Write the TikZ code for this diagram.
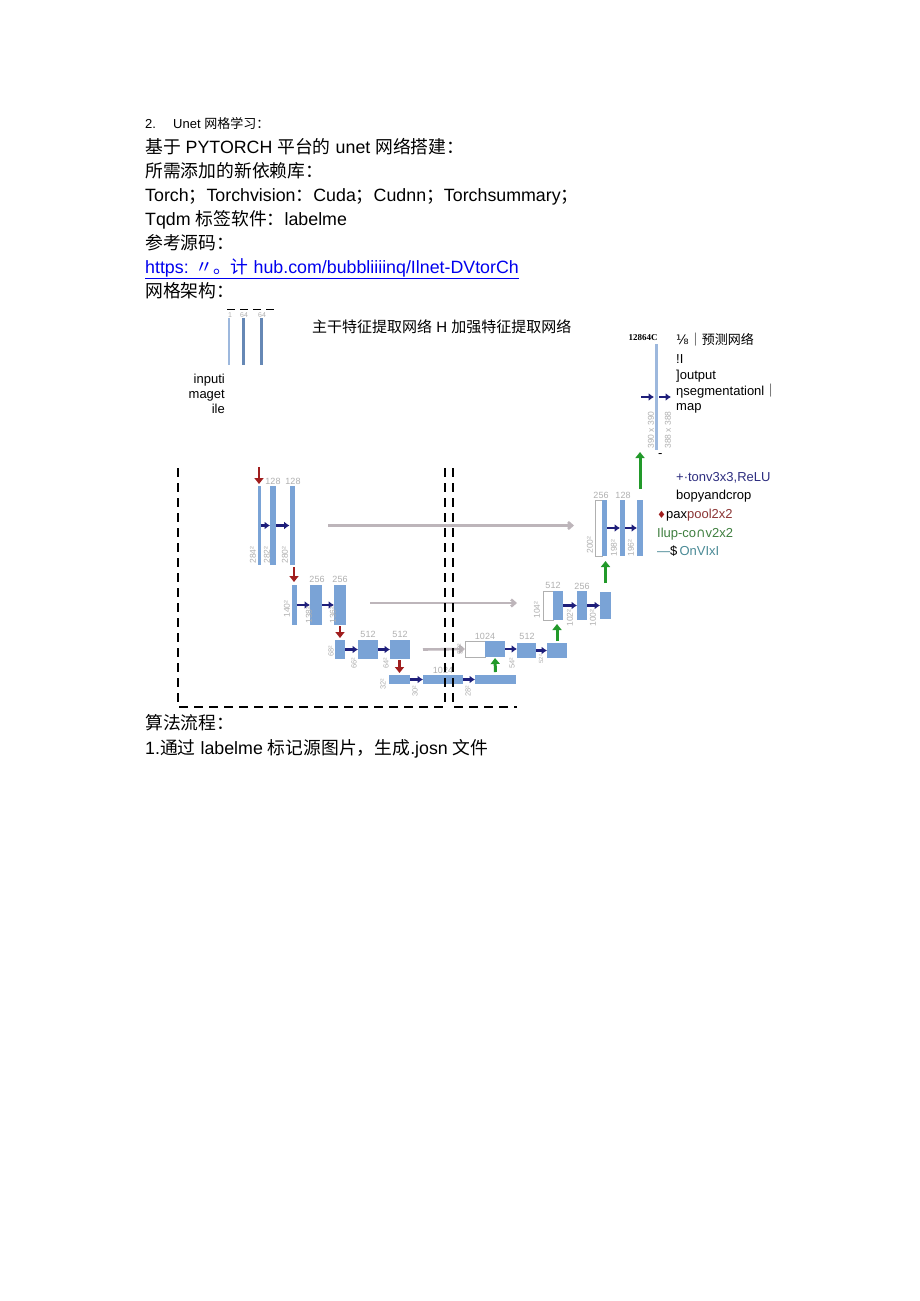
\documentclass[tikz,border=0pt]{standalone}
\usepackage{fontspec}
\setmainfont{Liberation Sans}
\newfontfamily\cjk{Noto Sans CJK SC}
\newfontfamily\symf{DejaVu Sans}
\newfontfamily\serifb{Liberation Serif}
\usetikzlibrary{arrows.meta}
\newcommand\zh[1]{{\cjk #1}}
\definecolor{barblue}{HTML}{7AA3D6}
\definecolor{barlight}{HTML}{9DB8DD}
\definecolor{bardark}{HTML}{6688B5}
\definecolor{navy}{HTML}{1E1E7A}
\definecolor{poolred}{HTML}{A01E1E}
\definecolor{upgreen}{HTML}{22992A}
\definecolor{lbl}{HTML}{B0B0B0}
\definecolor{copyg}{HTML}{BDB5BA}
\definecolor{linkblue}{HTML}{0000EE}
\definecolor{legnavy}{HTML}{2E2E80}
\definecolor{legred}{HTML}{8B3535}
\definecolor{leggreen}{HTML}{3F7F3F}
\definecolor{legteal}{HTML}{4A8A96}
\begin{document}
\begin{tikzpicture}[x=1pt,y=-1pt,
  txt/.style={anchor=base west, inner sep=0, font=\fontsize{17.8}{20}\selectfont},
  stxt/.style={anchor=base west, inner sep=0, font=\fontsize{13}{15}\selectfont},
  bar/.style={fill=barblue, inner sep=0, outer sep=0, draw=none},
  wbox/.style={fill=white, draw=lbl, line width=0.6pt, inner sep=0, outer sep=0},
  num/.style={inner sep=0, text=lbl, font=\fontsize{9}{10}\selectfont},
  rl/.style={inner sep=0, text=lbl, rotate=90, font=\fontsize{8.5}{10}\selectfont},
  conv/.style={draw=navy, line width=2.4pt, -{Latex[length=5.5pt,width=8pt]}},
  pool/.style={draw=poolred, line width=2.8pt, -{Triangle[length=6pt,width=9pt]}},
  upc/.style={draw=upgreen, line width=3pt, -{Triangle[length=6pt,width=9pt]}},
  copy/.style={draw=copyg, line width=2.6pt, -{Straight Barb[length=4pt,width=7pt]}},
  dashb/.style={draw=black, line width=2.4pt, dash pattern=on 9pt off 6pt}]
\path[fill=white] (0,0) rectangle (920,1301);

% ---------------- text block ----------------
\node[stxt] (t0a) at (145,128) {2.};
\node[stxt] (t0b) at (173,128) {Unet \zh{网格学习：}};
\node[txt] (t1) at (145,153) {\zh{基于} PYTORCH \zh{平台的} unet \zh{网络搭建：}};
\node[txt] (t2) at (145,177) {\zh{所需添加的新依赖库：}};
\node[txt] (t3) at (145,201) {Torch\zh{；}Torchvision\zh{：}Cuda\zh{；}Cudnn\zh{；}Torchsummary\zh{；}};
\node[txt] (t4) at (145,225) {Tqdm \zh{标签软件：}labelme};
\node[txt] (t5) at (145,249) {\zh{参考源码：}};
\node[txt, text=linkblue] (t6) at (145,273) {\underline{https: \zh{〃。计} hub.com/bubbliiiinq/Ilnet-DVtorCh}};
\node[txt] (t7) at (145,297) {\zh{网格架构：}};
\node[txt] (t8) at (145,729) {\zh{算法流程：}};
\node[txt] (t9) at (145,754) {1.\zh{通过} labelme \zh{标记源图片，生成}.josn \zh{文件}};

% ---------------- top input image ----------------
\coordinate (td1) at (227,309.5);
\coordinate (td2) at (276,309.5);
\draw[black, line width=1.6pt, dash pattern=on 8pt off 5pt] (td1) -- (td2);
\node[num, font=\fontsize{7}{8}\selectfont] (tn1) at (230,315) {1};
\node[num, font=\fontsize{7}{8}\selectfont] (tn2) at (244,315) {64};
\node[num, font=\fontsize{7}{8}\selectfont] (tn3) at (262,315) {64};
\node[bar, fill=barlight, minimum width=2, minimum height=47] (tb1) at (229,341.5) {};
\node[bar, fill=bardark, minimum width=3, minimum height=47] (tb2) at (243,341.5) {};
\node[bar, fill=bardark, minimum width=3, minimum height=47] (tb3) at (261,341.5) {};
\node[anchor=north east, inner sep=0, align=right, font=\fontsize{13}{15}\selectfont] (inp) at (225,374) {inputi\\maget\\ile};
\node[anchor=base west, inner sep=0, font=\fontsize{15}{17}\selectfont] (head) at (312,332) {\zh{主干特征提取网络} H \zh{加强特征提取网络}};

% ---------------- output side ----------------
\node[inner sep=0, font=\serifb\bfseries\fontsize{9}{10}\selectfont] (n12864) at (643,338) {12864C};
\node[bar, fill=barlight, minimum width=3, minimum height=106] (ob) at (656,397) {};
\coordinate (oa1) at (641,397);
\coordinate (oa2) at (654,397);
\coordinate (oa3) at (659,397);
\coordinate (oa4) at (671,397);
\draw[conv] (oa1) -- (oa2);
\draw[conv] (oa3) -- (oa4);
\node[rl] (or1) at (651,430) {390 x 390};
\node[rl] (or2) at (668,430) {388 x 388};
\node[stxt] (o1) at (676,344) {{\symf ⅛}\zh{｜预测网络}};
\node[stxt] (o2) at (676,363) {!I};
\node[stxt] (o3) at (676,379) {]output};
\node[stxt] (o4) at (676,395) {ηsegmentationl\zh{｜}};
\node[stxt] (o5) at (676,410) {map};
\node[stxt] (odash) at (658,457) {-};

% legend
\node[stxt, text=legnavy] (lg1) at (676,481) {+·tonv3x3,ReLU};
\node[stxt] (lg2) at (676,499) {bopyandcrop};
\node[stxt] (lg3) at (657,518) {{\symf\color{poolred}\fontsize{10}{12}\selectfont ♦}pax{\color{legred}pool2x2}};
\node[stxt, text=leggreen] (lg4) at (657,537) {Ilup-co{\symf ∩}v2x2};
\node[stxt] (lg5) at (657,555) {{\color{legteal}—}\$\,{\color{legteal}OnVIxI}};

% ---------------- level 1 (left) ----------------
\node[num] (a0l1) at (273,481) {128};
\node[num] (a0l2) at (293,481) {128};
\node[bar, minimum width=3, minimum height=79] (a1) at (259,525.5) {};
\node[bar, minimum width=6, minimum height=79] (a2) at (273,525.5) {};
\node[bar, minimum width=5, minimum height=79] (a3) at (292,525.5) {};
\coordinate (ra1) at (259,467);
\draw[pool, shorten >=2pt] (ra1) -- (a1.north);
\draw[conv] (a1) -- (a2);
\draw[conv] (a2) -- (a3);
\node[rl] (ar1) at (253,555) {284²};
\node[rl] (ar2) at (267,555) {282²};
\node[rl] (ar3) at (285,555) {280²};
\coordinate (cp1s) at (328,525.5);
\coordinate (cp1e) at (574,525.5);
\draw[copy] (cp1s) -- (cp1e);

% ---------------- level 2 (left) ----------------
\node[num] (b0l1) at (317,579) {256};
\node[num] (b0l2) at (340,579) {256};
\node[bar, minimum width=5, minimum height=40] (b1) at (294,605) {};
\node[bar, minimum width=12, minimum height=40] (b2) at (316,605) {};
\node[bar, minimum width=12, minimum height=40] (b3) at (340,605) {};
\coordinate (rb1) at (294,567);
\draw[pool, shorten >=3pt] (rb1) -- (b1.north);
\draw[conv] (b1) -- (b2);
\draw[conv] (b2) -- (b3);
\node[rl] (br1) at (287,609) {140²};
\node[rl] (br2) at (309,615) {138²};
\node[rl] (br3) at (333,615) {136²};
\coordinate (cp2s) at (370,603);
\coordinate (cp2e) at (517,603);
\draw[copy] (cp2s) -- (cp2e);

% ---------------- level 3 (left) ----------------
\node[num] (c0l1) at (368,634) {512};
\node[num] (c0l2) at (400,634) {512};
\node[bar, minimum width=10, minimum height=19] (c1) at (340,649.5) {};
\node[bar, minimum width=20, minimum height=19] (c2) at (368,649.5) {};
\node[bar, minimum width=20, minimum height=19] (c3) at (400,649.5) {};
\coordinate (rc1) at (340,626);
\draw[pool, shorten >=2pt] (rc1) -- (c1.north);
\draw[conv] (c1) -- (c2);
\draw[conv] (c2) -- (c3);
\node[rl, font=\fontsize{7.5}{9}\selectfont] (cr1) at (331,651) {68²};
\node[rl, font=\fontsize{7.5}{9}\selectfont] (cr2) at (354,663) {66²};
\node[rl, font=\fontsize{7.5}{9}\selectfont] (cr3) at (386,663) {64²};
\coordinate (cp3s) at (423,649.5);

% ---------------- level 4 (bottom) ----------------
\node[num] (d0l) at (443,670) {1024};
\node[bar, minimum width=21, minimum height=9] (d1) at (399.5,679.5) {};
\node[bar, minimum width=40, minimum height=9] (d2) at (443,679.5) {};
\node[bar, minimum width=41, minimum height=9] (d3) at (495.5,679.5) {};
\coordinate (rd1) at (399.5,660);
\draw[pool, shorten >=2pt] (rd1) -- (d1.north);
\draw[conv] (d1) -- (d2);
\draw[conv] (d2) -- (d3);
\node[rl, font=\fontsize{7.5}{9}\selectfont] (dr1) at (383,684) {32²};
\node[rl, font=\fontsize{7.5}{9}\selectfont] (dr2) at (415,691) {30²};
\node[rl, font=\fontsize{7.5}{9}\selectfont] (dr3) at (468,691) {28²};

% ---------------- level 3 (right) ----------------
\node[wbox, minimum width=20, minimum height=16] (e0) at (475,649) {};
\node[bar, minimum width=20, minimum height=16] (e1) at (495,649) {};
\node[num] (e0l) at (485,636) {1024};
\node[bar, minimum width=19, minimum height=15] (e2) at (526.5,650.5) {};
\node[num] (e2l) at (527,636) {512};
\node[bar, minimum width=20, minimum height=15] (e3) at (557,650.5) {};
\draw[copy] (cp3s) -- (e0.west);
\draw[upc, shorten >=1pt, shorten <=3pt] (d3.north) -- (e1.south);
\draw[conv] (e1.east) -- (e1.east -| e2.west);
\draw[conv] (e2) -- (e3);
\node[rl, font=\fontsize{7.5}{9}\selectfont] (er0) at (460,649) {56²};
\node[rl, font=\fontsize{7.5}{9}\selectfont] (er2) at (512,663) {54²};
\node[rl, font=\fontsize{6}{7}\selectfont] (er3) at (541,659) {52²};

% ---------------- level 2 (right) ----------------
\node[wbox, minimum width=10, minimum height=29] (f0) at (548,605.5) {};
\node[bar, minimum width=10, minimum height=29] (f1) at (558,605.5) {};
\node[num] (f1l) at (553,585) {512};
\node[bar, minimum width=10, minimum height=29] (f2) at (582,605.5) {};
\node[num] (f2l) at (582,586) {256};
\node[bar, minimum width=11, minimum height=27] (f3) at (605.5,605.5) {};
\draw[upc, shorten >=4pt, shorten <=2pt] (e3.north) -- (e3.north |- f1.south);
\draw[conv] (f1) -- (f2);
\draw[conv] (f2) -- (f3);
\node[rl] (fr0) at (537,610) {104²};
\node[rl] (fr2) at (570,618) {102²};
\node[rl] (fr3) at (593,618) {100²};

% ---------------- level 1 (right) ----------------
\node[wbox, minimum width=7, minimum height=56] (g0) at (598.5,528) {};
\node[bar, minimum width=5, minimum height=56] (g1) at (604.5,528) {};
\node[num] (g1l) at (601,495) {256};
\node[bar, minimum width=5, minimum height=56] (g2) at (622.5,528) {};
\node[num] (g2l) at (623,495) {128};
\node[bar, minimum width=6, minimum height=56] (g3) at (640,528) {};
\draw[upc, shorten >=5pt, shorten <=9pt] (f3.north) -- (f3.north |- g1.south);
\draw[conv] (g1) -- (g2);
\draw[conv] (g2) -- (g3);
\node[rl] (gr0) at (590,545) {200²};
\node[rl] (gr2) at (614,548) {198²};
\node[rl] (gr3) at (631,548) {196²};
\coordinate (upout) at (640,452);
\draw[upc, shorten <=11pt] (g3.north) -- (upout);

% ---------------- dashed boxes ----------------
\coordinate (L1) at (178,468);
\coordinate (L2) at (178,707);
\coordinate (L3) at (445,707);
\coordinate (L4) at (445,468);
\coordinate (R1) at (453,468);
\coordinate (R2) at (453,707);
\coordinate (R3) at (517,707);
\draw[dashb] (L1) -- (L2) -- (L3);
\draw[dashb] (L4) -- (L3);
\draw[dashb] (R1) -- (R2) -- (R3);
\end{tikzpicture}
\end{document}
